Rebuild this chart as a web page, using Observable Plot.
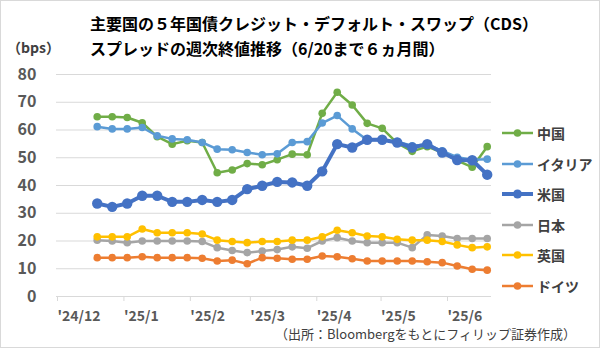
<!DOCTYPE html>
<html><head><meta charset="utf-8">
<script src="https://cdn.jsdelivr.net/npm/d3@7"></script>
<script src="https://cdn.jsdelivr.net/npm/@observablehq/plot@0.6"></script>
<style>
body{margin:0;background:#fff;font-family:"Noto Sans CJK JP","Noto Sans",sans-serif;}
#wrap{position:relative;width:600px;height:348px;overflow:hidden;}
#frame{position:absolute;left:0;top:0;width:598px;height:346px;border:1px solid #d9d9d9;pointer-events:none;}
.t{position:absolute;white-space:nowrap;color:#000;font-weight:bold;}
.lg{position:absolute;left:501px;height:20px;display:flex;align-items:center;font-size:14px;font-weight:bold;color:#404040;white-space:nowrap;}
.lg svg{margin-right:3px;}
#chart{position:absolute;left:0;top:0;}
</style></head>
<body>
<div id="wrap">
 <div id="chart"></div>
 <div class="t" style="left:90px;top:11px;font-size:16px;">主要国の５年国債クレジット・デフォルト・スワップ（CDS）</div>
 <div class="t" style="left:90px;top:36px;font-size:16px;">スプレッドの週次終値推移（6/20まで６ヵ月間）</div>
 <div class="t" style="left:7px;top:37px;font-size:14px;color:#404040;">（bps）</div>
 <div class="t" id="foot" style="right:24px;top:324px;font-size:13px;font-weight:normal;color:#404040;">（出所：Bloombergをもとにフィリップ証券作成）</div>
 <div id="legend"></div>
 <div id="frame"></div>
</div>
<script>
const dates = ["2024-12-20","2024-12-27","2025-01-03","2025-01-10","2025-01-17","2025-01-24","2025-01-31","2025-02-07","2025-02-14","2025-02-21","2025-02-28","2025-03-07","2025-03-14","2025-03-21","2025-03-28","2025-04-04","2025-04-11","2025-04-18","2025-04-25","2025-05-02","2025-05-09","2025-05-16","2025-05-23","2025-05-30","2025-06-06","2025-06-13","2025-06-20"];
const seriesNames = ["中国","イタリア","米国","日本","英国","ドイツ"];
const seriesColors = ["#70ad47","#5b9bd5","#4472c4","#a5a5a5","#ffc000","#ed7d31"];
const china   = [64.8,64.8,64.5,62.6,57.6,54.9,56.1,55.5,44.6,45.6,47.9,47.5,49.3,51.3,51.1,66.0,73.6,69.0,62.4,60.6,55.3,52.3,54.0,51.9,49.0,46.6,54.0];
const italy   = [61.2,60.4,60.4,60.9,57.9,56.8,56.5,55.5,53.1,52.9,51.9,51.1,51.4,55.5,55.8,62.5,65.2,60.4,56.4,56.3,55.8,54.3,54.8,52.5,50.2,49.3,49.5];
const us      = [33.5,32.3,33.5,36.3,36.3,34.1,34.1,34.8,34.1,34.8,38.7,39.9,41.3,41.1,39.9,45.1,54.9,53.7,56.5,56.5,55.5,53.7,54.9,51.9,49.2,49.1,43.9];
const japan   = [20.3,20.0,19.4,20.0,20.0,20.0,20.0,19.8,17.6,16.6,15.8,16.4,16.9,17.9,17.4,20.0,21.2,20.0,19.4,19.4,19.4,17.6,22.2,21.8,20.9,20.9,20.9];
const uk      = [21.5,21.5,21.5,24.3,23.0,23.0,23.0,22.5,20.3,19.8,19.4,19.8,19.8,20.3,20.3,21.5,23.9,23.0,21.8,21.5,20.6,20.3,20.3,19.8,18.6,17.6,17.9];
const germany = [14.0,14.0,14.0,14.3,14.0,14.0,14.0,13.8,12.8,13.1,11.8,14.0,13.8,13.4,13.4,14.6,14.3,13.6,12.8,12.8,12.8,12.8,12.5,12.2,11.0,9.8,9.5];
const seriesValues = [china, italy, us, japan, uk, germany];
const yTicks = [0,10,20,30,40,50,60,70,80];
const xTickDates = ["2024-12-01","2025-01-01","2025-02-01","2025-03-01","2025-04-01","2025-05-01","2025-06-01"];
const xTickLabels = ["'24/12","'25/1","'25/2","'25/3","'25/4","'25/5","'25/6"];

const parse = s => new Date(s + "T00:00:00Z");
const tickDates = xTickDates.map(parse);
const labelMap = new Map(tickDates.map((d,i)=>[+d, xTickLabels[i]]));
const lineW = [2.5,2.5,4,2.5,2.5,2.5];
const dotR  = [3.8,3.8,5.2,3.8,3.8,3.8];

const seriesMarks = [];
seriesNames.forEach((name, k) => {
  const rows = dates.map((d,i)=>({date: parse(d), value: seriesValues[k][i]}));
  seriesMarks.push(Plot.line(rows, {x:"date", y:"value", stroke: seriesColors[k], strokeWidth: lineW[k]}));
  seriesMarks.push(Plot.dot(rows, {x:"date", y:"value", fill: seriesColors[k], r: dotR[k], stroke: "none"}));
});

const chart = Plot.plot({
  width: 600, height: 348,
  marginTop: 74, marginBottom: 52, marginLeft: 56, marginRight: 109,
  style: {background: "transparent", fontFamily: '"Noto Sans CJK JP","Noto Sans",sans-serif'},
  x: {type: "utc", domain: [parse("2024-12-01"), parse("2025-06-22")], label: null},
  y: {domain: [0, 80], label: null},
  marks: [
    Plot.gridY(yTicks.filter(v=>v>0), {stroke: "#d9d9d9", strokeOpacity: 1, strokeWidth: 1}),
    Plot.ruleY([0], {stroke: "#d9d9d9", strokeWidth: 1}),
    Plot.axisY(yTicks, {label: null, tickSize: 0, tickPadding: 20, fontSize: 16, fontWeight: "bold", fill: "#595959"}),
    Plot.axisX(tickDates, {label: null, tickSize: 5, tickPadding: 10, stroke: "#d9d9d9", fill: "#595959", fontSize: 14, fontWeight: "bold", textAnchor: "start", dx: 1, tickFormat: d => labelMap.get(+d)}),
    ...seriesMarks
  ]
});
document.getElementById("chart").appendChild(chart);

const legendY = [133, 163.5, 194, 224.5, 255, 285.5];
const lg = document.getElementById("legend");
seriesNames.forEach((name,k) => {
  const div = document.createElement("div");
  div.className = "lg";
  div.style.top = (legendY[k] - 10) + "px";
  div.innerHTML = `<svg width="33" height="20"><line x1="1" y1="10" x2="32" y2="10" stroke="${seriesColors[k]}" stroke-width="${lineW[k]}"/><circle cx="16.5" cy="10" r="${k===2?4.5:3.8}" fill="${seriesColors[k]}"/></svg><span>${name}</span>`;
  lg.appendChild(div);
});
</script>
</body></html>
